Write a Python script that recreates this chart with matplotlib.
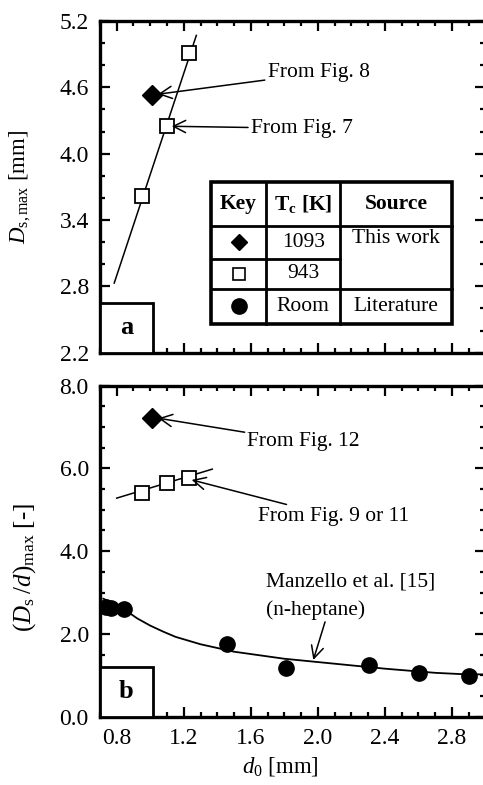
import numpy as np
import matplotlib
matplotlib.use('Agg')
import matplotlib.pyplot as plt
from matplotlib.ticker import MultipleLocator, FormatStrFormatter
from matplotlib.patches import Rectangle

plt.rcParams['font.family'] = ['Liberation Serif', 'DejaVu Serif']
plt.rcParams['mathtext.fontset'] = 'custom'
plt.rcParams['mathtext.rm'] = 'Liberation Serif'
plt.rcParams['mathtext.it'] = 'Liberation Serif:italic'
plt.rcParams['mathtext.bf'] = 'Liberation Serif:bold'

# (a) maximum spot diameter
a_sq_x = [0.95, 1.10, 1.23]
a_sq_y = [3.62, 4.25, 4.91]
a_dia_x = [1.01]
a_dia_y = [4.53]
a_fit_x = [0.785, 1.275]
a_fit_y = [2.83, 5.07]
a_yticks = [2.2, 2.8, 3.4, 4.0, 4.6, 5.2]

# (b) normalised spot diameter
b_dia_x = [1.01]
b_dia_y = [7.22]
b_sq_x = [0.95, 1.10, 1.23]
b_sq_y = [5.41, 5.64, 5.77]
b_fit_x = [0.80, 1.37]
b_fit_y = [5.28, 5.98]
lit_x = [0.735, 0.765, 0.845, 1.46, 1.81, 2.305, 2.605, 2.905]
lit_y = [2.64, 2.62, 2.61, 1.76, 1.17, 1.25, 1.05, 0.98]
manz_x = [0.72, 0.78, 0.85, 0.92, 1.00, 1.08, 1.15, 1.30, 1.50, 1.80, 2.10, 2.40, 2.70, 2.85, 3.00]
manz_y = [2.85, 2.74, 2.58, 2.38, 2.20, 2.05, 1.93, 1.75, 1.57, 1.40, 1.28, 1.16, 1.06, 1.03, 1.02]

fs_tick = 17
fs_txt = 15.5

fig = plt.figure(figsize=(4.83, 7.85), dpi=100)
ax1 = fig.add_axes([0.207, 0.5507, 0.798, 0.4225])
ax2 = fig.add_axes([0.207, 0.0870, 0.798, 0.4219])

for ax in (ax1, ax2):
    ax.set_xlim(0.7, 3.0)
    ax.xaxis.set_major_locator(MultipleLocator(0.4))
    ax.xaxis.set_minor_locator(MultipleLocator(0.1))
    ax.xaxis.set_major_formatter(FormatStrFormatter('%.1f'))
    ax.yaxis.set_major_formatter(FormatStrFormatter('%.1f'))
    ax.tick_params(which='both', direction='in', top=True, right=True, width=1.6,
                   labelsize=fs_tick, pad=8)
    ax.tick_params(which='major', length=7)
    ax.tick_params(which='minor', length=3.5)
    for s in ax.spines.values():
        s.set_linewidth(2.4)

ax1.set_ylim(2.2, 5.2)
ax1.set_yticks(a_yticks)
ax1.yaxis.set_minor_locator(MultipleLocator(0.2))
ax1.tick_params(labelbottom=False)
ax1.set_ylabel(r'$D_{\rm s,max}$ [mm]', fontsize=16.5)
ax1.yaxis.set_label_coords(-0.175, 0.5)

ax1.plot(a_fit_x, a_fit_y, color='black', lw=1.1)
ax1.plot(a_sq_x, a_sq_y, 's', ms=9.5, mfc='white', mec='black', mew=1.3, ls='none')
ax1.plot(a_dia_x, a_dia_y, 'D', ms=10, color='black', ls='none')

arw = dict(arrowstyle='->', color='black', lw=1.1, shrinkA=0, shrinkB=0,
           mutation_scale=22)
ax1.annotate('From Fig. 8', xy=(1.046, 4.538), xytext=(1.70, 4.73),
             fontsize=fs_txt, va='center', ha='left', arrowprops=arw)
ax1.annotate('From Fig. 7', xy=(1.128, 4.248), xytext=(1.60, 4.23),
             fontsize=fs_txt, va='center', ha='left', arrowprops=arw)

# key table
tx = [0.287, 0.432, 0.623, 0.914]
ty = [0.516, 0.382, 0.284, 0.191, 0.088]
tkw = dict(transform=ax1.transAxes, color='black', solid_capstyle='projecting')
ax1.add_patch(Rectangle((tx[0], ty[4]), tx[3] - tx[0], ty[0] - ty[4],
                        transform=ax1.transAxes, fill=True, fc='white',
                        ec='black', lw=2.6, zorder=3))
for x in tx[1:3]:
    ax1.plot([x, x], [ty[4], ty[0]], lw=2.0, zorder=4, **tkw)
ax1.plot([tx[0], tx[3]], [ty[1], ty[1]], lw=2.0, zorder=4, **tkw)
ax1.plot([tx[0], tx[2]], [ty[2], ty[2]], lw=2.0, zorder=4, **tkw)
ax1.plot([tx[0], tx[3]], [ty[3], ty[3]], lw=2.0, zorder=4, **tkw)

cx = [(tx[i] + tx[i + 1]) / 2 for i in range(3)]
cy = [(ty[i] + ty[i + 1]) / 2 for i in range(4)]
tt = dict(transform=ax1.transAxes, ha='center', va='center', fontsize=fs_txt, zorder=5)
ax1.text(cx[0], cy[0], 'Key', fontweight='bold', **tt)
ax1.text(cx[1], cy[0], r'$\mathbf{T}_{\mathbf{c}}$ [K]', fontweight='bold', **tt)
ax1.text(cx[2], cy[0], 'Source', fontweight='bold', **tt)
ax1.text(cx[1], cy[1], '1093', **tt)
ax1.text(cx[1], cy[2], '943', **tt)
ax1.text(cx[1], cy[3], 'Room', **tt)
ax1.text(cx[2], cy[1] + 0.01, 'This work', **tt)
ax1.text(cx[2], cy[3], 'Literature', **tt)
mk = dict(transform=ax1.transAxes, color='black', ls='none', zorder=5)
ax1.plot([cx[0]], [cy[1]], 'D', ms=8.5, **mk)
ax1.plot([cx[0]], [cy[2]], 's', ms=9, mfc='white', mec='black', mew=1.2,
         transform=ax1.transAxes, ls='none', zorder=5)
ax1.plot([cx[0]], [cy[3]], 'o', ms=11, **mk)

ax2.set_ylim(0.0, 8.0)
ax2.yaxis.set_major_locator(MultipleLocator(2.0))
ax2.yaxis.set_minor_locator(MultipleLocator(0.5))
ax2.set_ylabel(r'$(D_{\rm s}\;/d)_{\rm max}$ [-]', fontsize=18)
ax2.yaxis.set_label_coords(-0.16, 0.45)
ax2.set_xlabel(r'$d_0$ [mm]', fontsize=16.5, labelpad=4)
ax2.xaxis.set_label_coords(0.468, -0.115)

ax2.plot(b_fit_x, b_fit_y, color='black', lw=1.1)
ax2.plot(manz_x, manz_y, color='black', lw=1.3)
ax2.plot(b_sq_x, b_sq_y, 's', ms=9.5, mfc='white', mec='black', mew=1.3, ls='none')
ax2.plot(b_dia_x, b_dia_y, 'D', ms=10, color='black', ls='none')
ax2.plot(lit_x, lit_y, 'o', ms=11, color='black', ls='none')

ax2.annotate('From Fig. 12', xy=(1.048, 7.21), xytext=(1.58, 6.64),
             fontsize=fs_txt, va='center', ha='left', arrowprops=arw)
ax2.annotate('From Fig. 9 or 11', xy=(1.247, 5.72), xytext=(1.645, 4.83),
             fontsize=fs_txt, va='center', ha='left', arrowprops=arw)
ax2.text(1.69, 3.26, 'Manzello et al. [15]', fontsize=fs_txt, va='center', ha='left')
ax2.text(1.69, 2.58, '(n-heptane)', fontsize=fs_txt, va='center', ha='left')
ax2.annotate('', xy=(1.973, 1.37), xytext=(2.043, 2.29), arrowprops=arw)

# panel letters
for ax, lab in ((ax1, 'a'), (ax2, 'b')):
    ax.add_patch(Rectangle((0, 0), 0.137, 0.151, transform=ax.transAxes,
                           fill=True, fc='white', ec='black', lw=2.0, zorder=3,
                           clip_on=False))
    ax.text(0.0685, 0.0755, lab, transform=ax.transAxes, ha='center', va='center',
            fontsize=19, fontweight='bold', zorder=4)

fig.savefig('out.png', dpi=100)
